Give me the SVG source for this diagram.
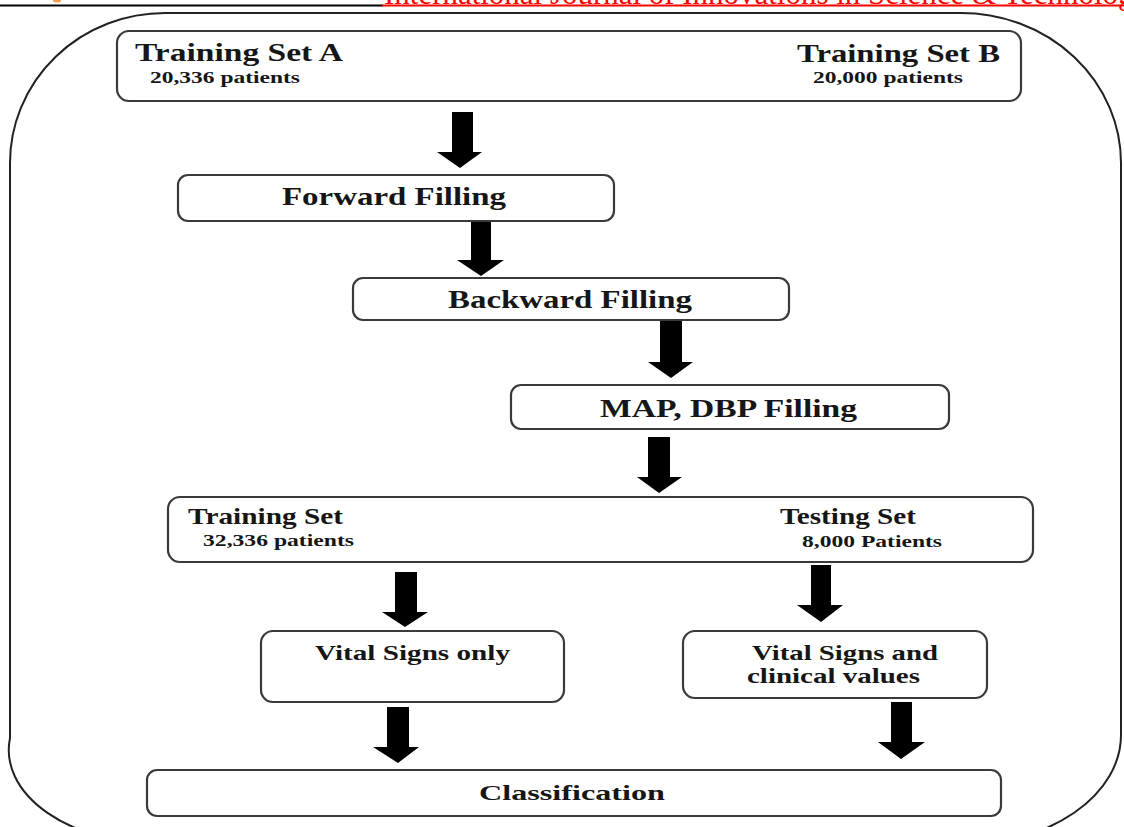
<svg xmlns="http://www.w3.org/2000/svg" width="1124" height="827" viewBox="0 0 1124 827">
<style>
.box{fill:#fff;stroke:#3a3a3a;stroke-width:2.2}
.t{font-family:"Liberation Serif","Times New Roman",serif;font-weight:bold;fill:#161616}
.arr{fill:#000}
</style>
<rect width="1124" height="827" fill="#fff"/>
<g id="header">
<ellipse cx="57" cy="0.5" rx="4" ry="2" fill="#f0a050"/>
<line x1="0" y1="5.5" x2="383" y2="5.5" stroke="#000" stroke-width="2.2"/>
<line x1="382" y1="5.5" x2="1124" y2="5.5" stroke="#f00" stroke-width="2.2"/>
<text x="384" y="3.5" font-family="Liberation Serif, serif" font-size="31" fill="#f00" textLength="765" lengthAdjust="spacingAndGlyphs">International Journal of Innovations in Science &amp; Technology</text>
</g>
<g id="frame">
<path d="M165,13 H961 A160 150 0 0 1 1121,163 V735 A160 110 0 0 1 961,845 H165 A155 95 0 0 1 10,738 V163 A155 150 0 0 1 165,13 Z" fill="none" stroke="#222" stroke-width="2"/>
</g>
<g id="connectors">
<polygon class="arr" points="452,112 473,112 473,152 482,152 460,168 437,152 452,152"/>
<polygon class="arr" points="471,221 491,221 491,260 504,260 481,276 457,260 471,260"/>
<polygon class="arr" points="660,320 682,320 682,362 693,362 671,378 648,362 660,362"/>
<polygon class="arr" points="648,437 670,437 670,477 682,477 659,493 637,477 648,477"/>
<polygon class="arr" points="395,572 417,572 417,612 428,612 405,627 382,612 395,612"/>
<polygon class="arr" points="811,565 831,565 831,605 843,605 821,622 797,605 811,605"/>
<polygon class="arr" points="387,707 409,707 409,747 419,747 398,763 373,747 387,747"/>
<polygon class="arr" points="891,702 912,702 912,742 925,742 901,759 878,742 891,742"/>
</g>
<g id="training-sets">
<rect class="box" x="117" y="31" width="904" height="70" rx="12"/>
<text class="t" x="135" y="61" font-size="26" textLength="208" lengthAdjust="spacingAndGlyphs">Training Set A</text>
<text class="t" x="150" y="83" font-size="16.5" textLength="150" lengthAdjust="spacingAndGlyphs">20,336 patients</text>
<text class="t" x="797" y="62" font-size="26" textLength="203" lengthAdjust="spacingAndGlyphs">Training Set B</text>
<text class="t" x="813" y="83" font-size="16.5" textLength="150" lengthAdjust="spacingAndGlyphs">20,000 patients</text>
</g>
<g id="forward-filling">
<rect class="box" x="178" y="175" width="436" height="46" rx="10"/>
<text class="t" x="282" y="205" font-size="26" textLength="224" lengthAdjust="spacingAndGlyphs">Forward Filling</text>
</g>
<g id="backward-filling">
<rect class="box" x="353" y="278" width="436" height="42" rx="10"/>
<text class="t" x="448" y="308" font-size="26" textLength="244" lengthAdjust="spacingAndGlyphs">Backward Filling</text>
</g>
<g id="map-dbp-filling">
<rect class="box" x="511" y="385" width="438" height="44" rx="10"/>
<text class="t" x="600" y="417" font-size="26" textLength="257" lengthAdjust="spacingAndGlyphs">MAP, DBP Filling</text>
</g>
<g id="train-test-split">
<rect class="box" x="168" y="497" width="865" height="65" rx="12"/>
<text class="t" x="188" y="524" font-size="23" textLength="155" lengthAdjust="spacingAndGlyphs">Training Set</text>
<text class="t" x="203" y="546" font-size="16" textLength="151" lengthAdjust="spacingAndGlyphs">32,336 patients</text>
<text class="t" x="780" y="524" font-size="23" textLength="136" lengthAdjust="spacingAndGlyphs">Testing Set</text>
<text class="t" x="802" y="547" font-size="16" textLength="140" lengthAdjust="spacingAndGlyphs">8,000 Patients</text>
</g>
<g id="vital-signs-only">
<rect class="box" x="261" y="631" width="303" height="71" rx="12"/>
<text class="t" x="315" y="660" font-size="22" textLength="195" lengthAdjust="spacingAndGlyphs">Vital Signs only</text>
</g>
<g id="vital-signs-clinical">
<rect class="box" x="683" y="631" width="304" height="67" rx="12"/>
<text class="t" x="752" y="660" font-size="22" textLength="186" lengthAdjust="spacingAndGlyphs">Vital Signs and</text>
<text class="t" x="747" y="683" font-size="22" textLength="173" lengthAdjust="spacingAndGlyphs">clinical values</text>
</g>
<g id="classification">
<rect class="box" x="147" y="770" width="854" height="46" rx="10"/>
<text class="t" x="479" y="800" font-size="22" textLength="186" lengthAdjust="spacingAndGlyphs">Classification</text>
</g>
</svg>
